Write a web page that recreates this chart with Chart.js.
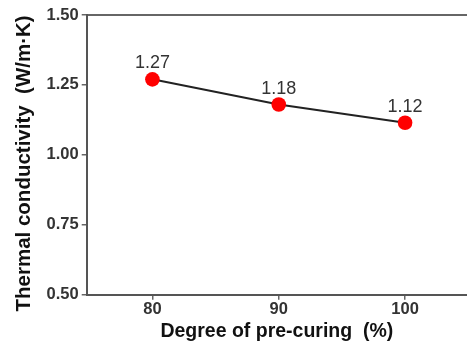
<!DOCTYPE html>
<html><head><meta charset="utf-8">
<script src="https://cdn.jsdelivr.net/npm/chart.js@4.4.0/dist/chart.umd.min.js"></script>
<style>html,body{margin:0;padding:0;background:#fff}#wrap{width:467px;height:350px}</style>
</head><body><div id="wrap"><canvas id="c" width="467" height="350"></canvas></div>
<script>
const categories = [80, 90, 100];
const conductivity = [1.27, 1.18, 1.115];
const valueLabels = ['1.27', '1.18', '1.12'];
const yTicks = [0.5, 0.75, 1.0, 1.25, 1.5];
const FONT = '"Liberation Sans", Arial, sans-serif';

const labelPlugin = {
  id: 'valLabels',
  afterDatasetsDraw(chart) {
    const ctx = chart.ctx;
    const meta = chart.getDatasetMeta(0);
    ctx.save();
    ctx.font = '18px ' + FONT;
    ctx.fillStyle = '#333';
    ctx.textAlign = 'center';
    ctx.textBaseline = 'alphabetic';
    meta.data.forEach((pt, i) => {
      ctx.fillText(valueLabels[i], pt.x, pt.y - 11);
    });
    ctx.restore();
  }
};

new Chart(document.getElementById('c'), {
  type: 'line',
  data: {
    datasets: [{
      data: categories.map((c, i) => ({x: c, y: conductivity[i]})),
      borderColor: '#222',
      borderWidth: 2,
      pointRadius: 7.3,
      pointHoverRadius: 7.3,
      pointBackgroundColor: '#ff0000',
      pointBorderColor: '#ff0000',
      pointBorderWidth: 0,
      tension: 0,
      clip: false
    }]
  },
  options: {
    responsive: false,
    animation: false,
    events: [],
    layout: {autoPadding: false, padding: {top: 7, right: 0, left: 12, bottom: 7}},
    plugins: {legend: {display: false}, tooltip: {enabled: false}},
    scales: {
      x: {
        type: 'linear',
        min: 74.8, max: 104.9,
        afterBuildTicks: (ax) => { ax.ticks = categories.map(v => ({value: v})); },
        grid: {display: true, drawOnChartArea: false, drawTicks: true, tickLength: 5, color: '#666', lineWidth: 1.5},
        border: {display: true, color: '#555', width: 2},
        ticks: {color: '#333', font: {family: FONT, size: 16.5, weight: 'bold'}, padding: 0, maxRotation: 0},
        title: {display: true, text: 'Degree of pre-curing  (%)', color: '#111', font: {family: FONT, size: 19.5, weight: 'bold'}, padding: {top: 0, bottom: 0}}
      },
      x2: {
        type: 'linear', position: 'top', min: 74.8, max: 104.9,
        grid: {display: false},
        border: {display: true, color: '#666', width: 2},
        ticks: {display: false}
      },
      y: {
        min: 0.5, max: 1.5,
        afterBuildTicks: (ax) => { ax.ticks = yTicks.map(v => ({value: v})); },
        grid: {display: true, drawOnChartArea: false, drawTicks: true, tickLength: 5, color: '#666', lineWidth: 1.5},
        border: {display: true, color: '#555', width: 2},
        ticks: {color: '#333', font: {family: FONT, size: 16.5, weight: 'bold'}, padding: 3, callback: v => v.toFixed(2)},
        title: {display: true, text: 'Thermal conductivity  (W/m·K)   ', color: '#111', font: {family: FONT, size: 20.5, weight: 'bold'}, padding: {top: 0, bottom: 7}}
      }
    }
  },
  plugins: [labelPlugin]
});
</script></body></html>
